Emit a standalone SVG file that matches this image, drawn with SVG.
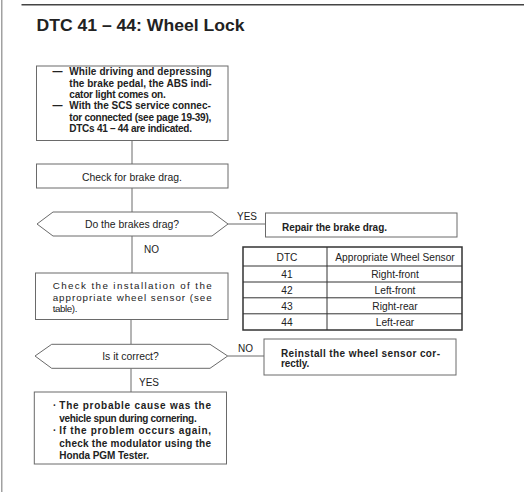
<svg xmlns="http://www.w3.org/2000/svg" width="524" height="492" viewBox="0 0 524 492">
<style>
.box{fill:#fff;stroke:#6a6a6a;stroke-width:1}
.ln{stroke:#6a6a6a;stroke-width:1;fill:none}
text{font-family:"Liberation Sans",Arial,sans-serif;fill:#222}
.b{font-weight:bold;font-size:10px}
.r{font-size:9.8px}
.m{font-size:10.4px}
.lbl{font-size:10px}
.t{font-size:10.2px;text-anchor:middle}
.c{text-anchor:middle}
</style>
<rect width="524" height="492" fill="#fff"/>
<line x1="1.8" y1="0" x2="1.8" y2="492" stroke="#8a8a8a" stroke-width="1.2"/>
<line x1="21.5" y1="4.8" x2="524" y2="4.8" stroke="#444" stroke-width="1.6"/>
<text id="title" x="36.5" y="30.7" font-size="17" font-weight="bold" textLength="208" lengthAdjust="spacingAndGlyphs">DTC 41 – 44: Wheel Lock</text>

<g id="connectors">
<line class="ln" x1="132" y1="140.5" x2="132" y2="164"/>
<line class="ln" x1="132" y1="188" x2="132" y2="212"/>
<line class="ln" x1="228" y1="224" x2="265.5" y2="224"/>
<line class="ln" x1="132" y1="236" x2="132" y2="273"/>
<line class="ln" x1="131" y1="319.5" x2="131" y2="344.3"/>
<line class="ln" x1="227.7" y1="356" x2="264" y2="356"/>
<line class="ln" x1="131" y1="368.3" x2="131" y2="392"/>
<text class="lbl" x="237" y="219.8">YES</text>
<text class="lbl" x="144" y="252.8">NO</text>
<text class="lbl" x="238" y="351.8">NO</text>
<text class="lbl" x="139" y="385.8">YES</text>
</g>

<g id="start">
<rect class="box" x="36.5" y="66" width="191.5" height="74.5"/>
<text class="b" x="52.5" y="75">—</text>
<text class="b" x="69.3" y="75" textLength="142.4" lengthAdjust="spacing">While driving and depressing</text>
<text class="b" x="69.3" y="86.5" textLength="142.4" lengthAdjust="spacing">the brake pedal, the ABS indi-</text>
<text class="b" x="69.3" y="97.9" textLength="96.4" lengthAdjust="spacing">cator light comes on.</text>
<text class="b" x="52.5" y="109.4">—</text>
<text class="b" x="69.3" y="109.4" textLength="141.5" lengthAdjust="spacing">With the SCS service connec-</text>
<text class="b" x="69.3" y="120.8" textLength="142" lengthAdjust="spacing">tor connected (see page 19-39),</text>
<text class="b" x="69.3" y="132.3" textLength="122.7" lengthAdjust="spacing">DTCs 41 – 44 are indicated.</text>
</g>

<g id="check-drag">
<rect class="box" x="36.5" y="164" width="191.5" height="24"/>
<text class="m c" x="132" y="180.5">Check for brake drag.</text>
</g>

<g id="brakes-drag">
<polygon class="box" points="37,224 53,212 212,212 228,224 212,236 53,236"/>
<text class="m c" x="132" y="227.6">Do the brakes drag?</text>
</g>

<g id="repair-drag">
<rect class="box" x="265.5" y="213" width="191.5" height="24"/>
<text class="b" x="282" y="230.5" textLength="105" lengthAdjust="spacing">Repair the brake drag.</text>
</g>

<g id="table">
<rect x="243" y="247" width="219" height="83" fill="#fff" stroke="#333" stroke-width="1.5"/>
<line x1="327" y1="247" x2="327" y2="330" stroke="#333" stroke-width="1"/>
<line x1="243" y1="266" x2="462" y2="266" stroke="#333" stroke-width="1"/>
<line x1="243" y1="282" x2="462" y2="282" stroke="#333" stroke-width="1"/>
<line x1="243" y1="297.8" x2="462" y2="297.8" stroke="#333" stroke-width="1"/>
<line x1="243" y1="313.8" x2="462" y2="313.8" stroke="#333" stroke-width="1"/>
<text class="t" x="287" y="260.6">DTC</text>
<text class="t" x="395" y="260.6">Appropriate Wheel Sensor</text>
<text class="t" x="287" y="277.8">41</text>
<text class="t" x="395" y="277.8">Right-front</text>
<text class="t" x="287" y="293.5">42</text>
<text class="t" x="395" y="293.5">Left-front</text>
<text class="t" x="287" y="309.5">43</text>
<text class="t" x="395" y="309.5">Right-rear</text>
<text class="t" x="287" y="325.7">44</text>
<text class="t" x="395" y="325.7">Left-rear</text>
</g>

<g id="check-install">
<rect class="box" x="35.5" y="273" width="192.5" height="46.5"/>
<text class="r" x="52.7" y="289" textLength="159" lengthAdjust="spacing">Check the installation of the</text>
<text class="r" x="52.7" y="300.7" textLength="159" lengthAdjust="spacing">appropriate wheel sensor (see</text>
<text class="r" x="52.7" y="312.3" textLength="24.7" lengthAdjust="spacing">table).</text>
</g>

<g id="is-correct">
<polygon class="box" points="35,356 51.7,344.3 210,344.3 227.7,356 210,368.3 51.7,368.3"/>
<text class="m c" x="130.5" y="359.6">Is it correct?</text>
</g>

<g id="reinstall">
<rect class="box" x="264" y="339" width="192" height="36"/>
<text class="b" x="281" y="356.5" textLength="159" lengthAdjust="spacing">Reinstall the wheel sensor cor-</text>
<text class="b" x="281" y="367.2" textLength="28.3" lengthAdjust="spacing">rectly.</text>
</g>

<g id="probable-cause">
<rect class="box" x="34.3" y="392" width="192.2" height="72"/>
<text class="b" x="53" y="409">·</text>
<text class="b" x="59.3" y="409" textLength="151.7" lengthAdjust="spacing">The probable cause was the</text>
<text class="b" x="59.3" y="421.5" textLength="137.4" lengthAdjust="spacing">vehicle spun during cornering.</text>
<text class="b" x="53" y="434">·</text>
<text class="b" x="59.3" y="434" textLength="151.7" lengthAdjust="spacing">If the problem occurs again,</text>
<text class="b" x="59.3" y="446.5" textLength="151.7" lengthAdjust="spacing">check the modulator using the</text>
<text class="b" x="59.3" y="458.5" textLength="89.7" lengthAdjust="spacing">Honda PGM Tester.</text>
</g>
</svg>
